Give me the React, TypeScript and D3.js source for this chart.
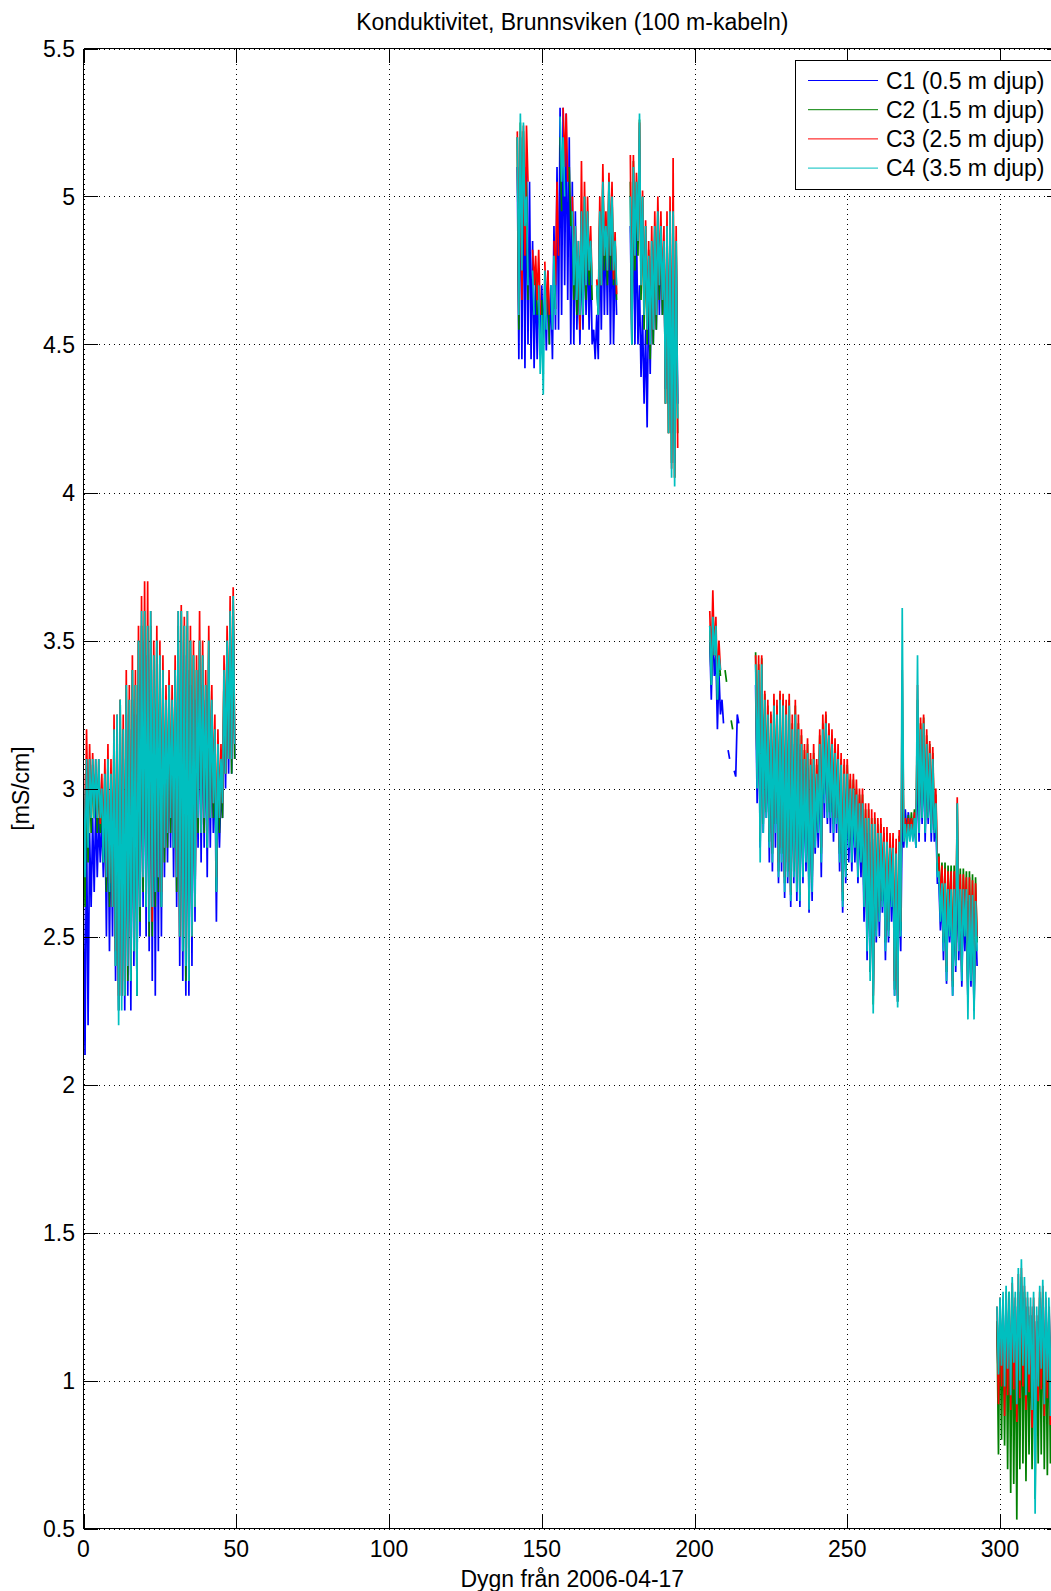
import React from "react";
import * as d3 from "d3";

type Pair = [number, number] | null;

const TITLE = "Konduktivitet, Brunnsviken (100 m-kabeln)";
const X_LABEL = "Dygn från 2006-04-17";
const Y_LABEL = "[mS/cm]";
const X_TICKS = [0, 50, 100, 150, 200, 250, 300];
const Y_TICKS = [0.5, 1, 1.5, 2, 2.5, 3, 3.5, 4, 4.5, 5, 5.5];
const SERIES_NAMES = ["C1 (0.5 m djup)", "C2 (1.5 m djup)", "C3 (2.5 m djup)", "C4 (3.5 m djup)"];
const SERIES_COLORS = ["#0000ff", "#008000", "#ff0000", "#00bfbf"];

// first day of each measurement period
const SEGMENT_START = [0, 142, 205, 299];

// daily [max, min] conductivity per sensor and period
const C1_A: Pair[] = [
  [2.6, 2.1], [2.9, 2.2], [2.85, 2.6], [2.9, 2.65], [2.95, 2.7], [2.9, 2.75], [2.9, 2.7], [2.95, 2.5], [3.0, 2.45], [2.95, 2.5],
  [3.1, 2.35], [3.15, 2.25], [3.2, 2.3], [3.1, 2.25], [3.25, 2.3], [3.2, 2.25], [3.3, 2.4], [3.25, 2.3], [3.35, 2.5], [3.4, 2.6],
  [3.5, 2.5], [3.45, 2.45], [3.5, 2.35], [3.4, 2.3], [3.35, 2.45], [3.3, 2.5], [3.3, 2.7], [3.2, 2.75], [3.25, 2.8], [3.2, 2.7],
  [3.3, 2.6], [3.45, 2.4], [3.5, 2.35], [3.45, 2.3], [3.4, 2.3], [3.35, 2.4], [3.3, 2.55], [3.3, 2.8], [3.4, 2.75], [3.35, 2.8],
  [3.3, 2.7], [3.35, 2.8], [3.2, 2.85], [3.1, 2.55], [3.05, 2.8], [3.0, 2.9], [3.3, 3.0], [3.4, 3.05], [3.5, 3.05], [3.55, 3.1],
];
const C2_A: Pair[] = [
  [2.95, 2.6], [3.05, 2.75], [3.1, 2.85], [3.08, 2.9], [3.05, 2.85], [3.05, 2.85], [3.0, 2.75], [3.05, 2.65], [3.1, 2.6], [3.05, 2.6],
  [3.2, 2.4], [3.2, 2.25], [3.3, 2.3], [3.2, 2.3], [3.35, 2.35], [3.3, 2.35], [3.4, 2.45], [3.35, 2.3], [3.5, 2.55], [3.55, 2.65],
  [3.6, 2.6], [3.55, 2.5], [3.55, 2.5], [3.45, 2.6], [3.5, 2.65], [3.45, 2.6], [3.4, 2.75], [3.3, 2.8], [3.35, 2.85], [3.3, 2.8],
  [3.4, 2.65], [3.55, 2.5], [3.6, 2.45], [3.55, 2.35], [3.55, 2.35], [3.5, 2.5], [3.45, 2.6], [3.4, 2.85], [3.5, 2.85], [3.45, 2.85],
  [3.35, 2.8], [3.5, 2.9], [3.3, 2.9], [3.2, 2.65], [3.15, 2.85], [3.1, 2.9], [3.4, 3.05], [3.5, 3.1], [3.6, 3.05], [3.62, 3.1],
];
const C3_A: Pair[] = [
  [3.05, 2.75], [3.2, 2.85], [3.15, 2.9], [3.12, 2.92], [3.1, 2.9], [3.1, 2.88], [3.05, 2.8], [3.1, 2.7], [3.15, 2.68], [3.1, 2.6],
  [3.25, 2.45], [3.25, 2.3], [3.3, 2.3], [3.25, 2.35], [3.4, 2.4], [3.35, 2.4], [3.45, 2.5], [3.4, 2.4], [3.55, 2.6], [3.65, 2.7],
  [3.7, 2.65], [3.7, 2.6], [3.6, 2.55], [3.5, 2.7], [3.55, 2.7], [3.5, 2.65], [3.45, 2.8], [3.35, 2.85], [3.4, 2.9], [3.35, 2.85],
  [3.45, 2.7], [3.6, 2.5], [3.62, 2.5], [3.58, 2.45], [3.6, 2.4], [3.55, 2.5], [3.5, 2.6], [3.45, 2.9], [3.6, 2.85], [3.5, 2.9],
  [3.4, 2.85], [3.55, 2.9], [3.35, 2.95], [3.25, 2.7], [3.2, 2.9], [3.15, 2.95], [3.45, 3.05], [3.55, 3.1], [3.65, 3.1], [3.68, 3.15],
];
const C4_A: Pair[] = [
  [3.0, 2.7], [3.1, 2.8], [3.1, 2.9], [3.1, 2.9], [3.1, 2.9], [3.1, 2.9], [3.0, 2.75], [3.05, 2.7], [3.1, 2.65], [3.05, 2.6],
  [3.2, 2.4], [3.25, 2.2], [3.3, 2.25], [3.2, 2.3], [3.35, 2.4], [3.3, 2.35], [3.4, 2.45], [3.35, 2.3], [3.5, 2.6], [3.6, 2.7],
  [3.6, 2.6], [3.55, 2.55], [3.6, 2.6], [3.45, 2.65], [3.5, 2.7], [3.45, 2.6], [3.4, 2.8], [3.3, 2.85], [3.35, 2.9], [3.3, 2.8],
  [3.4, 2.7], [3.6, 2.5], [3.6, 2.45], [3.55, 2.4], [3.6, 2.35], [3.5, 2.5], [3.45, 2.6], [3.4, 2.9], [3.5, 2.85], [3.45, 2.9],
  [3.35, 2.8], [3.5, 2.9], [3.3, 2.95], [3.2, 2.65], [3.15, 2.9], [3.1, 2.95], [3.4, 3.05], [3.5, 3.1], [3.6, 3.1], [3.65, 3.15],
];

const C1_B: Pair[] = [
  [5.1, 4.45], [5.2, 4.45], [5.15, 4.42], [5.1, 4.5], [5.05, 4.45], [4.85, 4.42], [4.75, 4.45], [4.7, 4.5], [4.7, 4.5], [4.72, 4.48],
  [4.75, 4.5], [4.7, 4.45], [4.9, 4.55], [5.1, 4.55], [5.3, 4.6], [5.3, 4.7], [5.28, 4.65], [5.2, 4.5], [5.05, 4.5], [4.95, 4.55],
  [4.8, 4.5], [4.85, 4.55], [4.9, 4.6], [4.85, 4.55], [4.8, 4.5], [4.55, 4.45], [4.6, 4.45], [4.9, 4.55], [4.95, 4.6], [4.9, 4.6],
  [4.95, 4.5], [4.95, 4.5], [4.8, 4.6], null, null, null, null, [4.9, 4.5], [5.0, 4.5], [4.9, 4.5],
  [4.7, 4.39], [4.6, 4.3], [4.55, 4.22], [4.7, 4.4], [4.8, 4.5], [4.85, 4.55], [4.9, 4.6], [4.85, 4.6], [4.8, 4.35], [4.85, 4.3],
  [4.9, 4.2], [4.9, 4.1], [4.8, 4.3],
];
const C2_B: Pair[] = [
  [5.2, 4.55], [5.25, 4.7], [5.22, 4.85], [5.05, 4.65], null, null, [4.75, 4.6], null, [4.65, 4.4], null,
  [4.7, 4.5], null, [4.78, 4.62], null, [5.2, 4.95], null, null, [5.1, 4.9], [4.95, 4.65], [4.85, 4.6],
  [4.8, 4.55], [4.95, 4.6], [5.0, 4.65], [4.95, 4.7], [4.85, 4.65], null, [4.7, 4.6], [4.95, 4.7], [5.05, 4.75], [4.9, 4.7],
  [5.05, 4.75], [5.0, 4.7], [4.85, 4.65], null, null, null, null, [5.05, 4.5], [5.12, 4.75], [5.05, 4.8],
  [5.26, 4.65], [5.0, 4.55], [4.9, 4.5], [4.82, 4.45], [4.85, 4.5], [4.9, 4.55], [4.95, 4.65], [4.9, 4.6], [4.85, 4.3], [4.9, 4.2],
  [4.95, 4.1], [4.98, 4.05], [4.85, 4.2],
];
const C3_B: Pair[] = [
  [5.22, 4.6], [5.22, 4.65], [5.24, 4.8], [5.24, 5.05], null, [4.82, 4.7], [4.8, 4.65], [4.82, 4.6], null, [4.78, 4.6],
  [4.75, 4.6], null, [4.85, 4.7], [5.05, 4.8], null, [5.3, 5.1], [5.28, 5.05], null, [5.0, 4.8], [4.9, 4.7],
  [4.85, 4.55], [5.12, 4.62], [5.05, 4.7], [5.0, 4.75], [4.9, 4.7], null, [4.72, 4.62], [5.0, 4.7], [5.11, 4.8], [4.95, 4.75],
  [5.08, 4.8], [5.05, 4.72], [4.88, 4.67], null, null, null, null, [5.14, 4.55], [5.14, 4.8], [5.08, 4.85],
  [5.25, 4.7], [5.02, 4.6], [4.92, 4.55], [4.85, 4.5], [4.9, 4.55], [4.95, 4.6], [5.0, 4.7], [4.95, 4.65], [4.9, 4.3], [4.95, 4.2],
  [5.0, 4.08], [5.13, 4.05], [4.9, 4.15],
];
const C4_B: Pair[] = [
  [5.2, 4.6], [5.28, 4.75], [5.25, 4.9], [5.0, 4.7], null, [4.75, 4.6], null, [4.7, 4.4], [4.6, 4.33], [4.75, 4.55],
  null, [4.7, 4.55], [4.8, 4.6], null, [5.27, 5.05], [5.2, 5.0], null, null, [4.95, 4.7], [4.9, 4.65],
  [4.85, 4.6], [4.95, 4.6], [5.0, 4.7], [4.95, 4.75], [4.85, 4.7], null, [4.7, 4.6], [4.95, 4.7], [5.05, 4.8], [4.9, 4.75],
  [5.05, 4.8], [5.0, 4.75], [4.85, 4.7], null, null, null, null, [5.0, 4.5], [5.1, 4.8], [5.05, 4.85],
  [5.28, 4.7], [5.0, 4.6], [4.9, 4.55], [4.8, 4.5], [4.85, 4.55], [4.9, 4.6], [4.95, 4.7], [4.9, 4.65], [4.85, 4.3], [4.9, 4.2],
  [4.95, 4.05], [4.95, 4.02], [4.85, 4.25],
];

const C1_C: Pair[] = [
  [3.5, 3.3], [3.55, 3.38], [3.45, 3.2], [3.39, 3.25], [3.3, 3.22], null, [3.13, 3.1], null, [3.06, 3.04], [3.25, 3.22],
  null, null, null, null, null,
  [3.35, 2.95], [3.3, 2.8], [3.33, 2.85], [3.25, 2.9], [3.2, 2.75], [3.18, 2.72], [3.22, 2.8], [3.2, 2.68], [3.25, 2.72], [3.22, 2.63],
  [3.2, 2.68], [3.22, 2.6], [3.15, 2.68], [3.2, 2.62], [3.15, 2.6], [3.1, 2.68], [3.05, 2.72], [3.07, 2.58], [3.03, 2.62], [3.05, 2.78],
  [3.0, 2.8], [3.1, 2.7], [3.15, 2.9], [3.17, 2.88], [3.12, 2.85], [3.1, 2.82], [3.08, 2.85], [3.05, 2.72], [3.02, 2.58], [3.0, 2.68],
  [3.0, 2.75], [2.95, 2.72], [2.95, 2.75], [2.93, 2.68], [2.9, 2.7], [2.9, 2.55], [2.85, 2.42], [2.85, 2.38], [2.82, 2.3], [2.83, 2.48],
  [2.8, 2.5], [2.8, 2.58], [2.78, 2.42], [2.78, 2.48], [2.75, 2.55], [2.75, 2.3], [2.73, 2.28], [2.78, 2.45], [2.92, 2.8], [2.93, 2.85],
  [2.92, 2.84], [2.9, 2.83], [2.88, 2.8], [3.1, 2.82], [3.15, 2.88], [3.15, 2.82], [3.1, 2.88], [3.08, 2.82], [3.05, 2.82], [2.9, 2.68],
  [2.68, 2.52], [2.64, 2.42], [2.64, 2.34], [2.62, 2.48], [2.62, 2.3], [2.62, 2.38], [2.7, 2.42], [2.62, 2.33], [2.62, 2.45], [2.62, 2.28],
  [2.6, 2.33], [2.6, 2.25], [2.58, 2.4],
];
const C2_C: Pair[] = [
  [3.55, 3.35], [3.6, 3.45], [3.55, 3.3], [3.45, 3.38], null, [3.4, 3.36], null, [3.23, 3.2], null, null,
  null, null, null, null, null,
  [3.46, 3.05], [3.42, 2.82], [3.44, 2.88], [3.32, 2.92], [3.28, 2.82], [3.25, 2.78], [3.3, 2.88], [3.28, 2.72], [3.32, 2.78], [3.3, 2.68],
  [3.28, 2.72], [3.3, 2.64], [3.22, 2.72], [3.28, 2.68], [3.22, 2.64], [3.18, 2.72], [3.13, 2.78], [3.15, 2.62], [3.1, 2.68], [3.12, 2.82],
  [3.08, 2.88], [3.18, 2.78], [3.22, 2.98], [3.25, 2.92], [3.2, 2.92], [3.18, 2.88], [3.15, 2.9], [3.12, 2.78], [3.1, 2.62], [3.08, 2.72],
  [3.08, 2.82], [3.03, 2.78], [3.03, 2.82], [3.0, 2.72], [2.98, 2.78], [2.98, 2.62], [2.93, 2.48], [2.93, 2.38], [2.9, 2.27], [2.9, 2.52],
  [2.88, 2.58], [2.88, 2.62], [2.85, 2.48], [2.85, 2.52], [2.83, 2.62], [2.83, 2.32], [2.8, 2.28], [2.84, 2.52], [3.2, 2.84], [2.9, 2.82],
  [2.91, 2.84], [2.92, 2.84], [2.93, 2.82], [3.3, 2.86], [3.22, 2.9], [3.24, 2.86], [3.18, 2.9], [3.15, 2.86], [3.12, 2.86], [2.98, 2.72],
  [2.78, 2.58], [2.75, 2.48], [2.75, 2.38], [2.74, 2.52], [2.74, 2.33], [2.74, 2.42], [2.95, 2.48], [2.73, 2.38], [2.73, 2.52], [2.72, 2.28],
  [2.72, 2.38], [2.71, 2.25], [2.7, 2.48],
];
const C3_C: Pair[] = [
  [3.6, 3.4], [3.67, 3.45], [3.58, 3.35], [3.5, 3.4], null, null, null, null, null, null,
  null, null, null, null, null,
  [3.45, 3.05], [3.45, 2.85], [3.45, 2.9], [3.33, 2.95], [3.3, 2.85], [3.26, 2.8], [3.32, 2.9], [3.3, 2.75], [3.33, 2.8], [3.32, 2.7],
  [3.3, 2.75], [3.32, 2.65], [3.25, 2.75], [3.3, 2.7], [3.25, 2.65], [3.2, 2.75], [3.15, 2.8], [3.17, 2.65], [3.12, 2.7], [3.15, 2.85],
  [3.1, 2.9], [3.2, 2.8], [3.25, 3.0], [3.26, 2.95], [3.22, 2.95], [3.2, 2.9], [3.17, 2.9], [3.15, 2.8], [3.12, 2.65], [3.1, 2.75],
  [3.1, 2.85], [3.05, 2.8], [3.05, 2.85], [3.03, 2.75], [3.0, 2.8], [3.0, 2.65], [2.95, 2.5], [2.95, 2.4], [2.93, 2.3], [2.92, 2.55],
  [2.9, 2.6], [2.9, 2.65], [2.87, 2.5], [2.87, 2.55], [2.85, 2.65], [2.85, 2.35], [2.83, 2.3], [2.86, 2.55], [3.4, 2.85], [2.9, 2.82],
  [2.9, 2.84], [2.9, 2.84], [2.92, 2.82], [3.35, 2.88], [3.24, 2.92], [3.25, 2.88], [3.2, 2.92], [3.16, 2.88], [3.14, 2.88], [3.0, 2.75],
  [2.77, 2.6], [2.74, 2.5], [2.73, 2.4], [2.72, 2.55], [2.72, 2.35], [2.72, 2.45], [2.97, 2.5], [2.71, 2.4], [2.71, 2.55], [2.7, 2.3],
  [2.7, 2.4], [2.69, 2.3], [2.68, 2.5],
];
const C4_C: Pair[] = [
  [3.55, 3.35], [3.58, 3.45], [3.55, 3.3], [3.45, 3.4], null, null, null, null, null, null,
  null, null, null, null, null,
  [3.42, 3.0], [3.4, 2.75], [3.42, 2.85], [3.3, 2.9], [3.25, 2.8], [3.22, 2.75], [3.28, 2.85], [3.25, 2.7], [3.3, 2.75], [3.28, 2.65],
  [3.25, 2.7], [3.28, 2.62], [3.2, 2.7], [3.25, 2.65], [3.2, 2.62], [3.15, 2.7], [3.1, 2.75], [3.12, 2.59], [3.08, 2.65], [3.1, 2.8],
  [3.05, 2.85], [3.15, 2.75], [3.2, 2.95], [3.22, 2.9], [3.18, 2.9], [3.15, 2.85], [3.12, 2.88], [3.1, 2.75], [3.08, 2.6], [3.05, 2.7],
  [3.05, 2.8], [3.0, 2.75], [3.0, 2.8], [2.98, 2.7], [2.95, 2.75], [2.95, 2.6], [2.9, 2.45], [2.9, 2.35], [2.88, 2.24], [2.88, 2.5],
  [2.85, 2.55], [2.85, 2.6], [2.82, 2.45], [2.82, 2.5], [2.8, 2.6], [2.8, 2.3], [2.78, 2.26], [2.82, 2.5], [3.61, 2.82], [2.88, 2.8],
  [2.88, 2.82], [2.88, 2.82], [2.9, 2.8], [3.45, 2.85], [3.2, 2.9], [3.22, 2.85], [3.15, 2.9], [3.12, 2.85], [3.1, 2.85], [2.95, 2.7],
  [2.72, 2.55], [2.68, 2.45], [2.68, 2.35], [2.66, 2.5], [2.66, 2.3], [2.66, 2.4], [2.95, 2.45], [2.66, 2.35], [2.66, 2.5], [2.66, 2.22],
  [2.64, 2.35], [2.64, 2.22], [2.62, 2.45],
];

const C1_D: Pair[] = [
  [1.2, 0.95], [1.22, 1.0], [1.25, 0.95], [1.25, 1.0], [1.22, 0.95], [1.28, 1.0], [1.25, 0.95], [1.3, 1.0], [1.32, 1.0], [1.28, 0.95],
  [1.25, 1.0], [1.22, 0.9], [1.25, 0.9], [1.2, 0.95], [1.25, 1.0], [1.28, 0.95], [1.25, 0.95], [1.22, 0.9], [1.25, 0.95], [1.22, 0.95],
  [1.25, 0.9],
];
const C2_D: Pair[] = [
  [1.2, 0.75], [1.25, 0.8], [1.22, 0.78], [1.28, 0.7], [1.3, 0.62], [1.3, 0.65], [1.25, 0.53], [1.3, 0.7], [1.35, 0.72], [1.3, 0.66],
  [1.25, 0.75], [1.22, 0.7], [1.25, 0.6], [1.2, 0.72], [1.28, 0.75], [1.3, 0.7], [1.25, 0.68], [1.22, 0.72], [1.25, 0.7], [1.22, 0.72],
  [1.25, 0.7],
];
const C3_D: Pair[] = [
  [1.25, 0.92], [1.28, 0.98], [1.25, 0.88], [1.3, 0.95], [1.28, 0.9], [1.33, 0.97], [1.28, 0.86], [1.36, 0.94], [1.38, 0.98], [1.32, 0.9],
  [1.28, 0.96], [1.25, 0.84], [1.28, 0.9], [1.22, 0.93], [1.3, 0.97], [1.32, 0.88], [1.28, 0.94], [1.25, 0.85], [1.28, 0.95], [1.25, 0.9],
  [1.28, 0.92],
];
const C4_D: Pair[] = [
  [1.25, 1.02], [1.28, 1.05], [1.3, 0.98], [1.32, 1.04], [1.3, 0.95], [1.35, 1.06], [1.3, 0.92], [1.38, 1.0], [1.41, 1.05], [1.35, 0.95],
  [1.3, 1.02], [1.28, 0.9], [1.3, 0.55], [1.25, 0.98], [1.32, 1.04], [1.34, 0.92], [1.3, 1.0], [1.28, 0.88], [1.3, 1.0], [1.27, 0.95],
  [1.3, 0.96],
];

const SERIES: Pair[][][] = [
  [C1_A, C1_B, C1_C, C1_D],
  [C2_A, C2_B, C2_C, C2_D],
  [C3_A, C3_B, C3_C, C3_D],
  [C4_A, C4_B, C4_C, C4_D],
];

const W = 1051;
const H = 1591;
const M = { left: 83.5, top: 48.5, bottom: 1528.5 };
const X_MAX = 320;
const FONT = "'Liberation Sans', Arial, Helvetica, sans-serif";
const FS = 23;
const TICK = 14;

type Pt = { d: number; v: number } | null;

export default function App() {
  const x = d3.scaleLinear().domain([0, X_MAX]).range([M.left, 1061.1]);
  const y = d3.scaleLinear().domain([0.5, 5.5]).range([M.bottom, M.top]);
  const right = x(X_MAX);

  const line = d3
    .line<Pt>()
    .defined((p) => p !== null)
    .x((p) => x((p as { d: number }).d))
    .y((p) => y((p as { v: number }).v));

  // each day contributes its maximum followed by its minimum half a day later
  const toPoints = (arr: Pair[], start: number): Pt[] =>
    arr.flatMap((p, i) =>
      p ? [{ d: start + i, v: p[0] }, { d: start + i + 0.5, v: p[1] }] : [null]
    );

  const legendRows = [80.5, 109.7, 138.9, 168.1];

  return (
    <div style={{ position: "absolute", left: 0, top: 0, width: W, height: H, overflow: "hidden", background: "#fff" }}>
      <svg width={W} height={H} style={{ display: "block", background: "#fff" }} fontFamily={FONT}>
        <defs>
          <clipPath id="plot-area">
            <rect x={M.left} y={M.top} width={right - M.left} height={M.bottom - M.top} />
          </clipPath>
        </defs>

        {/* dotted grid */}
        <g stroke="#000" strokeWidth={1} strokeDasharray="1,4" shapeRendering="crispEdges">
          {X_TICKS.map((t) => (
            <line key={`gx${t}`} x1={Math.round(x(t)) + 0.5} x2={Math.round(x(t)) + 0.5} y1={M.top} y2={M.bottom} />
          ))}
          {Y_TICKS.map((t) => (
            <line key={`gy${t}`} x1={M.left} x2={right} y1={Math.round(y(t)) + 0.5} y2={Math.round(y(t)) + 0.5} />
          ))}
        </g>

        {/* sensor traces */}
        <g clipPath="url(#plot-area)" fill="none" strokeWidth={1.7} strokeLinejoin="miter" strokeMiterlimit={2}>
          {SERIES.map((segs, si) => (
            <g key={si} stroke={SERIES_COLORS[si]}>
              {segs.map((seg, k) => (
                <path key={k} d={line(toPoints(seg, SEGMENT_START[k])) || ""} />
              ))}
            </g>
          ))}
        </g>

        {/* axes box and ticks */}
        <g stroke="#000" strokeWidth={1} fill="none" shapeRendering="crispEdges">
          <line x1={M.left} x2={M.left} y1={M.top} y2={M.bottom} />
          <line x1={M.left} x2={right} y1={M.top} y2={M.top} />
          <line x1={M.left} x2={right} y1={M.bottom} y2={M.bottom} />
          <line x1={right} x2={right} y1={M.top} y2={M.bottom} />
          {X_TICKS.map((t) => {
            const px = Math.round(x(t)) + 0.5;
            return (
              <g key={`tx${t}`}>
                <line x1={px} x2={px} y1={M.bottom} y2={M.bottom - TICK} />
                <line x1={px} x2={px} y1={M.top} y2={M.top + TICK} />
              </g>
            );
          })}
          {Y_TICKS.map((t) => {
            const py = Math.round(y(t)) + 0.5;
            return (
              <g key={`ty${t}`}>
                <line x1={M.left} x2={M.left + TICK} y1={py} y2={py} />
                <line x1={right} x2={right - TICK} y1={py} y2={py} />
              </g>
            );
          })}
        </g>

        {/* tick labels */}
        <g fontSize={FS} fill="#000">
          {X_TICKS.map((t) => (
            <text key={`lx${t}`} x={x(t)} y={1557} textAnchor="middle">
              {String(t)}
            </text>
          ))}
          {Y_TICKS.map((t) => (
            <text key={`ly${t}`} x={75} y={y(t) + 8} textAnchor="end">
              {String(t)}
            </text>
          ))}
        </g>

        {/* titles */}
        <text x={(M.left + right) / 2} y={30} textAnchor="middle" fontSize={FS} fill="#000">
          {TITLE}
        </text>
        <text x={(M.left + right) / 2} y={1587} textAnchor="middle" fontSize={FS} fill="#000">
          {X_LABEL}
        </text>
        <text
          transform={`translate(29, ${(M.top + M.bottom) / 2}) rotate(-90)`}
          textAnchor="middle"
          fontSize={FS}
          fill="#000"
        >
          {Y_LABEL}
        </text>

        {/* legend */}
        <g>
          <rect x={795.5} y={60.5} width={258} height={128.5} fill="#fff" stroke="#000" strokeWidth={1} shapeRendering="crispEdges" />
          {SERIES_NAMES.map((name, i) => (
            <g key={name}>
              <line x1={808} x2={878} y1={legendRows[i]} y2={legendRows[i]} stroke={SERIES_COLORS[i]} strokeWidth={1} />
              <text x={886} y={legendRows[i] + 8} fontSize={FS} fill="#000">
                {name}
              </text>
            </g>
          ))}
        </g>
      </svg>
    </div>
  );
}
